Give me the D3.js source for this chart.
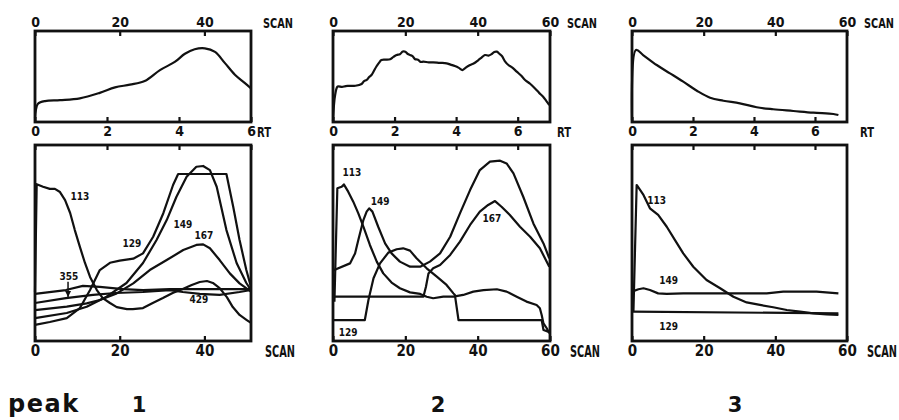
<!DOCTYPE html>
<html><head><meta charset="utf-8">
<script src="https://cdn.jsdelivr.net/npm/d3@7"></script>
<style>body{margin:0;background:#fff}svg{display:block}</style>
</head><body><svg id="c" width="899" height="420"></svg>
<script>
// ---------- tick labels ----------
const scanTicksP1 = [0, 20, 40];
const scanTicksP23 = [0, 20, 40, 60];
const rtTicks = [0, 2, 4, 6];
const peakNames = ["1", "2", "3"];

// ---------- peak 1 (scan, relative intensity) ----------
const p1TIC = [[0,4],[0.2,13],[0.7,20],[2.4,23],[5.9,24],[10.6,26],[15.3,32],[18.9,38],[22.4,41],[25.9,45],[29.5,57],[33,66],[35.4,75],[37.7,80],[40.1,81],[42.5,77],[44.8,65],[47.2,52],[49.5,43],[51,37]];
const p1_113 = [[0,25],[0.4,80],[1.9,78.7],[3.5,77.6],[4.7,77.6],[5.9,76],[7.1,71.9],[8.3,65.3],[9.4,56.6],[10.6,48],[11.8,39.8],[13,32.7],[14.6,26],[16,21.9],[17.7,19.4],[19.3,17.3],[21.7,16.3],[23.1,16.3],[25.5,16.8],[27.8,19.4],[30.2,21.9],[32.5,24.5],[34.9,26.5],[37,28.6],[38.9,30.1],[40.6,30.6],[42,29.6],[43.6,27],[45.3,22.4],[46.7,17.3],[48.3,13.3],[50,10.7],[51,9.2]];
const p1_129 = [[0,8.2],[3.5,9.7],[7.5,11.7],[10.6,16.8],[13,26],[15.3,36.2],[17.7,39.9],[20,41],[23.2,42],[25.5,44.7],[27.9,53.2],[30.3,65.2],[32.6,79.6],[33.8,85.2],[45.2,85.2],[46.8,68.5],[48.3,51.5],[49.9,36.2],[51,27.6]];
const p1_149 = [[0,11.7],[7.5,14.3],[12.2,17.5],[16.9,22.6],[21.6,29.6],[25.5,39.8],[28.7,51.5],[31.1,61.7],[33.4,73.6],[35.8,83.8],[38.1,88.9],[39.7,89.3],[41.3,87.2],[42.9,78.7],[45.2,56.6],[47.6,39.8],[49.9,29.6],[51,26]];
const p1_167 = [[0,15.8],[7.5,17.5],[12.2,19.2],[15.3,20.9],[19.3,24.3],[23.2,29.4],[27.1,36.2],[31.1,41.3],[35,46.4],[38.1,49],[39.7,49.3],[41.3,47.3],[43.6,41.3],[46,34.5],[48.3,29.4],[51,25.2]];
const p1_355 = [[0,24],[7.3,26],[11.3,28.1],[15.3,27.6],[20.8,26.5],[25.5,26],[31.8,26.5],[38.9,26.5],[46,26.5],[51,26.5]];
const p1_429 = [[0,19.4],[7.3,21.9],[13.7,23.5],[19.1,24.5],[25.5,25],[31.8,26],[34.9,25],[38.9,24],[43.6,23.5],[48.3,25],[51,26]];

// ---------- peak 2 ----------
const p2TIC = [[0,1],[0.6,30],[1.3,39],[2.5,38.5],[3.5,39.5],[4.7,39.6],[6.2,39.8],[7.9,41.8],[8.6,45],[9.3,46.2],[10,49.5],[10.7,51.9],[11.3,56],[12,61],[12.7,65],[13.4,68.1],[14.5,68.5],[15.8,69],[16.7,71.5],[17.6,73.6],[18.5,74.5],[19.3,77.5],[20,77.3],[20.6,75],[21.3,73.6],[22,72.5],[22.7,69],[23.5,68.5],[24.2,66],[25,66.3],[26.5,65.5],[27.7,65.6],[29.5,65],[31.4,64.5],[32.5,63],[33.7,61.5],[34.8,59.5],[35.8,57.1],[36.8,60],[37.9,62.6],[39,64.5],[40.2,68.1],[41,70.5],[42,73.6],[43,73],[43.9,74.7],[44.6,77],[45.3,77.3],[46,75],[46.7,72.5],[47.5,67],[48.5,62.6],[49.5,60],[50.8,55.3],[52,51],[53.1,46.2],[54.5,42],[55.8,37],[57,32],[58.1,27.8],[59,23],[59.8,18.7]];
const p2_113 = [[0.4,20],[1.2,77.9],[2.4,78.7],[3,79.9],[4.2,76.2],[5.6,71.1],[7,65.1],[8.4,58.3],[10.2,49],[12.1,40.5],[13.9,34.5],[16.2,29.8],[18.5,26.9],[21.3,24.8],[24.1,24],[25.9,22.6],[27.7,21.8],[30.5,22.6],[33.3,22.6],[36,23.5],[38.8,25.2],[41.6,26],[45.3,26.4],[48,25.2],[50.8,22.6],[53.5,20.1],[56.3,18.4],[57.2,16.7],[57.7,13.3],[58.2,9],[59.1,6.5],[59.8,3.9]];
const p2_149 = [[0,36],[4.7,39.6],[6.1,44.7],[7,51.5],[8.4,61.7],[9.3,66],[10,67.7],[10.9,66],[12.5,58.3],[14.4,49.8],[16.2,44.7],[18.5,40.5],[21.3,37.9],[24.1,37.9],[26.8,40.5],[29.6,44.7],[32.4,53.2],[35.1,65.1],[37.9,77],[40.6,87.2],[43.4,91.5],[46.2,92],[48,90.6],[49.9,85.5],[52.6,73.6],[55.4,60],[58.2,49.8],[59.8,42.2]];
const p2_167 = [[0,22.6],[25,22.6],[25.7,27.7],[26.4,34.5],[27.7,37.1],[29.6,38.8],[32.4,43.9],[35.1,50.7],[37.9,59.2],[40.6,66],[42.9,69.4],[44.8,71.4],[46.6,68.5],[48.9,64.3],[51.7,58.3],[54.5,53.2],[57.2,47.3],[59.8,37.9]];
const p2_129 = [[0,10.7],[8.8,10.7],[9.8,20.9],[11.2,32],[13,39.6],[15.3,45.1],[17.6,46.8],[19.4,47.3],[21.3,46.1],[23.1,42.2],[25.9,37.1],[28.7,32.8],[31.4,28.6],[33.3,24.3],[33.7,23.5],[34.7,10.7],[57.7,10.7],[58.2,5.6],[59.5,4.8]];

// ---------- peak 3 ----------
const p3TIC = [[0,2],[1.1,79.1],[3.1,73.6],[6.9,62.6],[10.6,53.5],[14.3,44.3],[18.1,34.4],[21.8,26.7],[25.5,23.4],[30.1,20.5],[34.8,16.2],[39.4,14],[45,12.1],[50.6,10.2],[56.2,8.8],[57.6,7.7]];
const p3_113 = [[0.4,15],[1.3,79.6],[3.2,74.5],[5,67.7],[7.3,64.3],[9.7,58.3],[12,51.5],[14.3,44.7],[17.1,37.9],[20.8,31.1],[24.6,26.9],[28.3,22.6],[32,19.7],[35.7,18.4],[39.4,17.2],[43.2,15.8],[46.9,15],[50.6,14.1],[54.3,13.6],[57.6,13.3]];
const p3_149 = [[0,25.2],[1.8,26.4],[3.2,26.9],[5,26],[7.3,24.3],[9.7,24],[14.3,24.3],[19,24.3],[28.3,24.3],[37.6,24.3],[42.2,25.2],[51.5,25.2],[57.6,24.3]];
const p3_129 = [[0,15],[57.6,14.1]];

// ---------- ion labels (name, scan, intensity) ----------
const p1Labels = [["113",10.6,73.5],["129",22.9,50],["149",34.9,59.2],["167",39.9,53.6],["355",8,32.7],["429",38.7,21]];
const p2Labels = [["113",5.2,85.9],["149",13,71.1],["167",43.9,62.6],["129",4.2,4.4]];
const p3Labels = [["113",6.9,71.6],["149",10.2,30.8],["129",10.2,7.3]];
const p1Arrow = [[7.8,30.2],[7.8,22.5]];

// ---------- drawing ----------
const svg = d3.select("#c");
const FONT = "'DejaVu Sans Condensed','DejaVu Sans',sans-serif";
const INK = "#111";
const topY = [31, 122], botY = [145, 341];

const panels = [
  {x0:35, x1:251, scanMax:51, rtMax:6, scanTicks:scanTicksP1, scanDx:12, rtDx:6, scanBDx:14,
   tic:p1TIC, series:[p1_113,p1_129,p1_149,p1_167,p1_355,p1_429], labels:p1Labels, arrow:p1Arrow},
  {x0:333, x1:550, scanMax:60, rtMax:7.05, scanTicks:scanTicksP23, scanDx:17, rtDx:7, scanBDx:20,
   tic:p2TIC, series:[p2_113,p2_149,p2_167,p2_129], labels:p2Labels},
  {x0:632, x1:847, scanMax:60, rtMax:7.05, scanTicks:scanTicksP23, scanDx:17, rtDx:13, scanBDx:20,
   tic:p3TIC, series:[p3_113,p3_149,p3_129], labels:p3Labels}
];

function styleAxis(g, size) {
  g.select(".domain").remove();
  g.selectAll(".tick line").attr("stroke", INK).attr("stroke-width", 2.2);
  g.selectAll(".tick text").attr("fill", INK).attr("font-family", FONT)
    .attr("font-weight", "bold").attr("font-size", size);
}

panels.forEach((p, i) => {
  const xs = d3.scaleLinear().domain([0, p.scanMax]).range([p.x0, p.x1]);
  const xr = d3.scaleLinear().domain([0, p.rtMax]).range([p.x0, p.x1]);
  const yT = d3.scaleLinear().domain([0, 100]).range([topY[1], topY[0]]);
  const yB = d3.scaleLinear().domain([0, 100]).range([botY[1], botY[0]]);
  const g = svg.append("g");

  // curves
  const lineT = d3.line().x(d => xs(d[0])).y(d => yT(d[1])).curve(d3.curveCatmullRom.alpha(0.5));
  const lineB = d3.line().x(d => xs(d[0])).y(d => yB(d[1])).curve(d3.curveLinear);
  g.append("path").attr("d", lineT(p.tic)).attr("fill", "none").attr("stroke", INK)
    .attr("stroke-width", 2.2).attr("stroke-linejoin", "round");
  p.series.forEach(s => {
    g.append("path").attr("d", lineB(s)).attr("fill", "none").attr("stroke", INK)
      .attr("stroke-width", 2.2).attr("stroke-linejoin", "round");
  });

  // boxes
  [topY, botY].forEach(yy => {
    g.append("rect").attr("x", p.x0).attr("y", yy[0]).attr("width", p.x1 - p.x0)
      .attr("height", yy[1] - yy[0]).attr("fill", "none").attr("stroke", INK).attr("stroke-width", 2.8);
  });

  // axes
  const a1 = g.append("g").attr("transform", `translate(0,${topY[0]})`)
    .call(d3.axisTop(xs).tickValues(p.scanTicks).tickSizeInner(-5).tickSizeOuter(0).tickPadding(4).tickFormat(d3.format("d")));
  styleAxis(a1, 14);
  const a2 = g.append("g").attr("transform", `translate(0,${topY[1]})`)
    .call(d3.axisBottom(xr).tickValues(rtTicks).tickSizeInner(-5).tickSizeOuter(0).tickPadding(4).tickFormat(d3.format("d")));
  styleAxis(a2, 14);
  const a3 = g.append("g").attr("transform", `translate(0,${botY[0]})`)
    .call(d3.axisTop(xr).tickValues(rtTicks).tickSizeInner(-5).tickSizeOuter(0).tickFormat(""));
  styleAxis(a3, 14);
  const a4 = g.append("g").attr("transform", `translate(0,${botY[1]})`)
    .call(d3.axisBottom(xs).tickValues(p.scanTicks).tickSizeInner(-5).tickSizeOuter(0).tickPadding(4).tickFormat(d3.format("d")));
  styleAxis(a4, 15);

  // unit labels, squeezed horizontally to the narrow lettering of the original
  const unit = (txt, x, y, size, w) => {
    const t = g.append("text").attr("x", 0).attr("y", 0).text(txt)
      .attr("font-family", FONT).attr("font-weight", "bold").attr("font-size", size).attr("fill", INK);
    const nat = t.node().getComputedTextLength() || w;
    t.attr("transform", `translate(${x},${y}) scale(${w / nat},1)`);
  };
  unit("SCAN", p.x1 + p.scanDx, 28, 14, 30);
  unit("RT", p.x1 + p.rtDx, 137, 14, 14);
  unit("SCAN", p.x1 + p.scanBDx, 357, 15, 30);

  // ion labels
  p.labels.forEach(l => {
    g.append("text").attr("x", xs(l[1])).attr("y", yB(l[2])).attr("dy", "0.35em")
      .attr("text-anchor", "middle").text(l[0])
      .attr("font-family", FONT).attr("font-weight", "bold").attr("font-size", 10).attr("fill", INK);
  });
  if (p.arrow) {
    const a = p.arrow;
    g.append("line").attr("x1", xs(a[0][0])).attr("y1", yB(a[0][1])).attr("x2", xs(a[1][0])).attr("y2", yB(a[1][1]))
      .attr("stroke", INK).attr("stroke-width", 1.5);
    const ax = xs(a[1][0]), ay = yB(a[1][1]);
    g.append("path").attr("d", `M${ax-3},${ay-6}L${ax+3},${ay-6}L${ax},${ay}Z`).attr("fill", INK);
  }

  // peak number
  const cx = [139, 438, 735][i];
  svg.append("text").attr("x", cx).attr("y", 412).attr("text-anchor", "middle").text(peakNames[i])
    .attr("font-family", "'DejaVu Sans',sans-serif").attr("font-weight", "bold").attr("font-size", 21).attr("fill", INK);
});

svg.append("text").attr("x", 8).attr("y", 412).text("peak")
  .attr("font-family", "'DejaVu Sans',sans-serif").attr("font-weight", "bold").attr("font-size", 24)
  .attr("letter-spacing", 1.5).attr("fill", INK);
</script></body></html>
